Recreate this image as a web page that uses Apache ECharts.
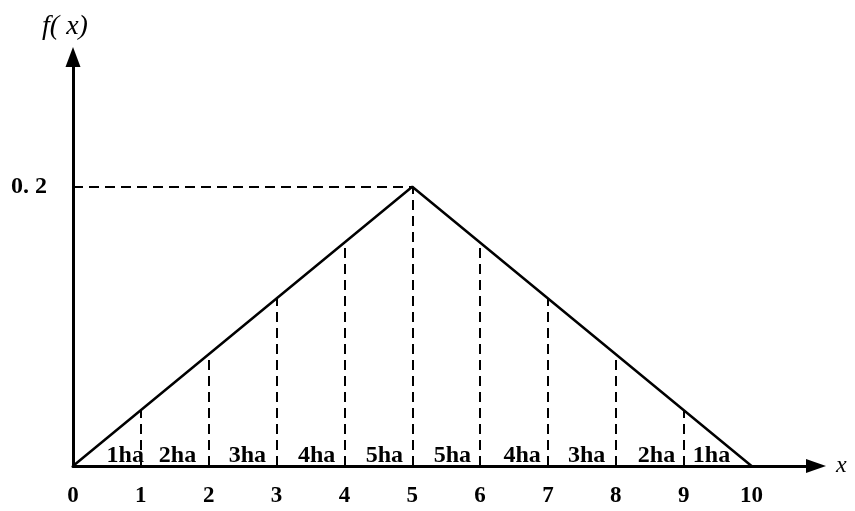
<!DOCTYPE html>
<html>
<head>
<meta charset="utf-8">
<script src="https://cdn.jsdelivr.net/npm/echarts@6/dist/echarts.min.js"></script>
<style>
  html, body { margin: 0; padding: 0; background: #fff; }
  #chart { width: 855px; height: 511px; }
</style>
</head>
<body>
<div id="chart"></div>
<script>
// Triangular density f(x) on [0, 10] with its peak at x = 5
const peakX = [0, 5, 10];
const peakF = [0, 0.2, 0];

// Dashed guides at each integer x, up to the density curve
const guideX = [1, 2, 3, 4, 5, 6, 7, 8, 9];
const guideF = [0.04, 0.08, 0.12, 0.16, 0.2, 0.16, 0.12, 0.08, 0.04];

// Area labels inside each strip
const stripText = ['1ha', '2ha', '3ha', '4ha', '5ha', '5ha', '4ha', '3ha', '2ha', '1ha'];
const stripX = [0.77, 1.54, 2.57, 3.59, 4.59, 5.59, 6.62, 7.57, 8.6, 9.41];
const stripY = [0.007, 0.007, 0.007, 0.007, 0.007, 0.007, 0.007, 0.007, 0.007, 0.007];

// Axis tick labels
const xTicks = [0, 1, 2, 3, 4, 5, 6, 7, 8, 9, 10];
const yTicks = [0.2];
const yTickText = ['0. 2'];

const serifBold = { fontFamily: 'Liberation Serif', fontWeight: 'bold', color: '#000' };

const chart = echarts.init(document.getElementById('chart'));

const guideLines = guideX.map((x, i) => [{ coord: [x, 0] }, { coord: [x, guideF[i]] }]);
guideLines.push([{ coord: [0, peakF[1]] }, { coord: [peakX[1], peakF[1]] }]);

chart.setOption({
  animation: false,
  backgroundColor: '#fff',
  grid: { left: 73, right: 39, top: 57, bottom: 45, containLabel: false },
  xAxis: {
    type: 'value',
    min: 0,
    max: 10.95,
    interval: 1,
    name: 'x',
    nameLocation: 'end',
    nameGap: 20,
    nameTextStyle: { fontFamily: 'Liberation Serif', fontStyle: 'italic', fontSize: 24, color: '#000', verticalAlign: 'middle', padding: [0, 0, 4, 0] },
    axisLine: { show: true, symbol: ['none', 'triangle'], symbolSize: [14, 20], lineStyle: { color: '#000', width: 3 } },
    axisTick: { show: false },
    splitLine: { show: false },
    axisLabel: Object.assign({
      fontSize: 23,
      margin: 19,
      showMaxLabel: false,
      formatter: v => (xTicks.indexOf(v) >= 0 ? String(v) : '')
    }, serifBold)
  },
  yAxis: {
    type: 'value',
    min: 0,
    max: 0.2929,
    interval: 0.1,
    name: 'f( x)',
    nameLocation: 'end',
    nameGap: 16,
    nameTextStyle: { fontFamily: 'Liberation Serif', fontStyle: 'italic', fontSize: 28, color: '#000', align: 'center', padding: [0, 16, 0, 0] },
    axisLine: { show: true, symbol: ['none', 'triangle'], symbolSize: [15, 20], lineStyle: { color: '#000', width: 3 } },
    axisTick: { show: false },
    splitLine: { show: false },
    axisLabel: Object.assign({
      fontSize: 24,
      margin: 26,
      formatter: v => {
        const k = yTicks.findIndex(t => Math.abs(t - v) < 1e-9);
        return k >= 0 ? yTickText[k] : '';
      }
    }, serifBold)
  },
  series: [
    {
      type: 'line',
      data: peakX.map((x, i) => [x, peakF[i]]),
      showSymbol: false,
      symbol: 'none',
      lineStyle: { color: '#000', width: 2.5 },
      z: 3,
      markLine: {
        silent: true,
        symbol: ['none', 'none'],
        label: { show: false },
        lineStyle: { color: '#000', width: 2, type: [10, 6] },
        data: guideLines
      }
    },
    {
      type: 'scatter',
      symbolSize: 0,
      itemStyle: { opacity: 1 },
      data: stripX.map((x, i) => ({ value: [x, stripY[i]], name: stripText[i] })),
      label: Object.assign({
        show: true,
        position: [0, 0],
        align: 'center',
        verticalAlign: 'middle',
        fontSize: 24,
        textBorderWidth: 0,
        opacity: 1,
        formatter: p => p.name
      }, serifBold),
      z: 4
    }
  ]
});
</script>
</body>
</html>
